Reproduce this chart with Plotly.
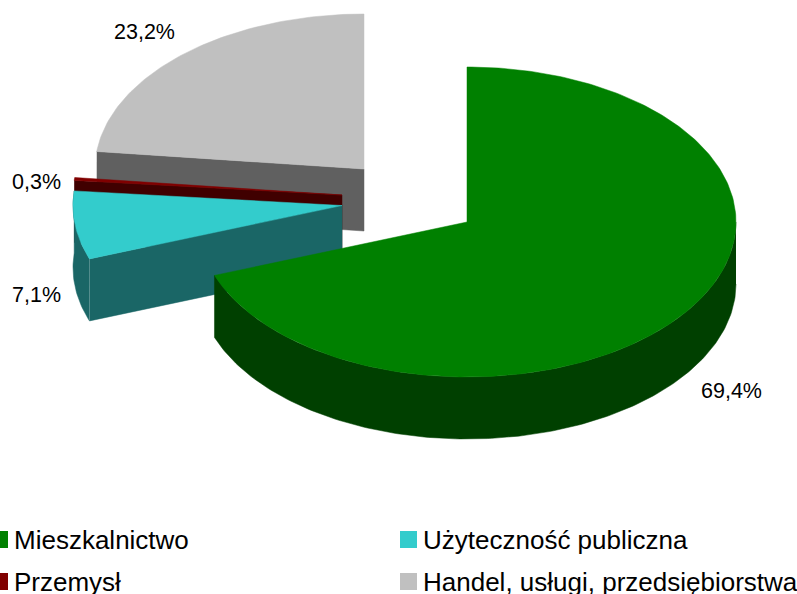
import numpy as np
import plotly.graph_objects as go

# Data
categories = ["Mieszkalnictwo", "Użyteczność publiczna", "Przemysł", "Handel, usługi, przedsiębiorstwa"]
values = [69.4, 7.1, 0.3, 23.2]

# Styles
top_colors = ["#008000", "#33CCCC", "#800000", "#C0C0C0"]
side_colors = ["#004000", "#1A6666", "#400000", "#606060"]

# Geometry of the tilted, exploded pie (pixels)
RX, RY, DEPTH = 269, 155, 62
centres = [(467, 222), (342, 205.5), (342, 195), (364, 169)]
label_pos = [(731, 391), (36, 295), (36, 182), (144, 32)]
legend_pos = [(-9, 539.5), (400, 539.5), (-9, 581.5), (400, 581.5)]
FONT = "Liberation Sans, Arial, sans-serif"

# Slice angles from the values (clockwise from 12 o'clock)
ends = np.cumsum(values) / np.sum(values) * 2 * np.pi
starts = np.concatenate([[0], ends[:-1]])


def rim(c, a0, a1, dy=0.0):
    t = np.linspace(a0, a1, max(2, int(abs(a1 - a0) * 60)))
    return c[0] + RX * np.sin(t), c[1] - RY * np.cos(t) + dy


def poly(xs, ys, color, name):
    return go.Scatter(x=xs, y=ys, mode="lines", fill="toself", fillcolor=color,
                      line=dict(width=0.5, color=color), name=name,
                      showlegend=False, hoverinfo="name")


fig = go.Figure()

# Painter's order: back slice first, biggest front slice last
for i in [3, 2, 1, 0]:
    c, a0, a1 = centres[i], starts[i], ends[i]
    name = categories[i]
    if i in (1, 2, 3):
        # radial wall at the start of the slice
        ex, ey = rim(c, a0, a0)
        xs = [ex[0], c[0], c[0], ex[0]]
        ys = [ey[0], c[1], c[1] + DEPTH, ey[0] + DEPTH]
        fig.add_trace(poly(xs, ys, side_colors[i], name))
    if i in (0, 1):
        # outer wall
        w0 = max(a0, np.pi / 2)
        ox, oy = rim(c, w0, a1)
        bx, by = rim(c, w0, a1, DEPTH)
        fig.add_trace(poly(np.r_[ox, bx[::-1]], np.r_[oy, by[::-1]], side_colors[i], name))
    # top face
    tx, ty = rim(c, a0, a1)
    fig.add_trace(poly(np.r_[c[0], tx, c[0]], np.r_[c[1], ty, c[1]], top_colors[i], name))

annotations = []
for v, (x, y) in zip(values, label_pos):
    annotations.append(dict(x=x, y=y, text=f"{v:.1f}%".replace(".", ","), showarrow=False,
                            xanchor="center", yanchor="middle",
                            font=dict(family=FONT, size=21.5, color="#000000")))

shapes = []
for i, (x, y) in enumerate(legend_pos):
    shapes.append(dict(type="rect", x0=x, x1=x + 17, y0=y - 8.5, y1=y + 8.5,
                       fillcolor=top_colors[i], line=dict(width=0), xref="x", yref="y"))
    annotations.append(dict(x=x + 21, y=y, text=categories[i], showarrow=False,
                            xanchor="left", yanchor="middle",
                            font=dict(family=FONT, size=26, color="#000000")))

fig.update_layout(
    width=797, height=594, margin=dict(l=0, r=0, t=0, b=0),
    paper_bgcolor="#FFFFFF", plot_bgcolor="#FFFFFF", showlegend=False,
    xaxis=dict(range=[0, 797], visible=False, fixedrange=True),
    yaxis=dict(range=[594, 0], visible=False, fixedrange=True),
    annotations=annotations, shapes=shapes,
)
fig.write_html("out.html", config=dict(displayModeBar=False),
               post_script="document.body.style.margin='0';document.documentElement.style.overflow='hidden';")
